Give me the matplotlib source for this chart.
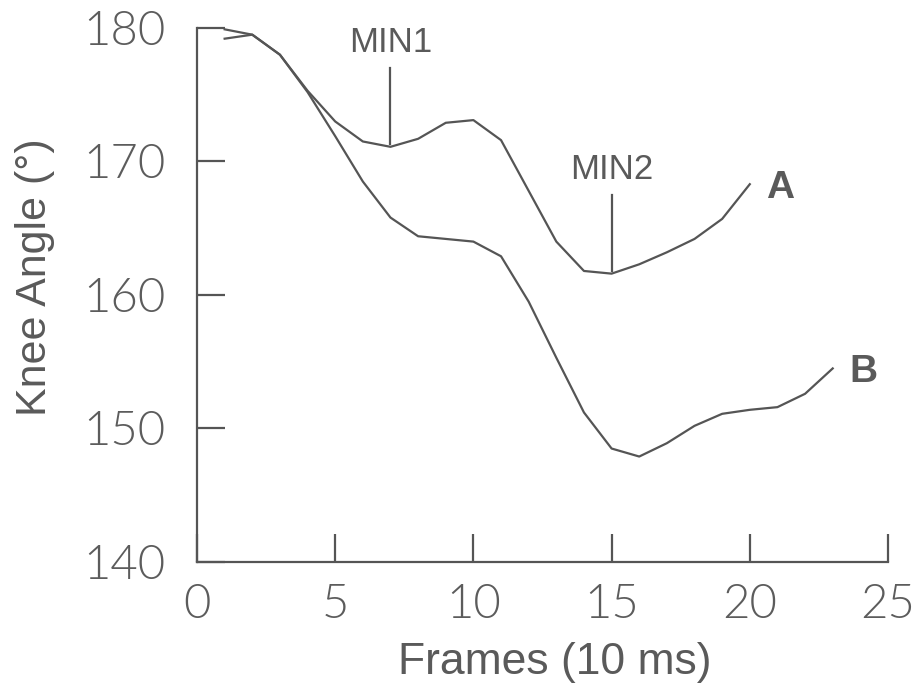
import numpy as np
import matplotlib
matplotlib.use("Agg")
import matplotlib.pyplot as plt

# frames (10 ms) and knee angle (deg)
frames_a = [1, 2, 3, 4, 5, 6, 7, 8, 9, 10, 11, 12, 13, 14, 15, 16, 17, 18, 19, 20]
angle_a = [179.9, 179.5, 178.0, 175.3, 173.0, 171.5, 171.1, 171.7, 172.9, 173.1,
           171.6, 167.8, 164.0, 161.8, 161.6, 162.3, 163.2, 164.2, 165.7, 168.3]

frames_b = [1, 2, 3, 4, 5, 6, 7, 8, 9, 10, 11, 12, 13, 14, 15, 16, 17, 18, 19, 20, 21, 22, 23]
angle_b = [179.2, 179.5, 178.0, 175.2, 171.9, 168.5, 165.8, 164.4, 164.2, 164.0,
           162.9, 159.5, 155.3, 151.2, 148.5, 147.9, 148.9, 150.2, 151.1, 151.4,
           151.6, 152.6, 154.5]

min_labels = ["MIN1", "MIN2"]
min_frames = [7, 15]

x_ticks = [0, 5, 10, 15, 20, 25]
y_ticks = [140, 150, 160, 170, 180]

grey = "#555555"
txt = "#5a5a5a"

fig = plt.figure(figsize=(9.16, 6.88), dpi=100)
ax = fig.add_axes([197 / 916, 1 - 562 / 688, (888 - 197) / 916, (562 - 28) / 688])

ax.plot(frames_a, angle_a, color=grey, lw=1.6)
ax.plot(frames_b, angle_b, color=grey, lw=1.6)

ax.set_xlim(0, 25)
ax.set_ylim(140, 180)
ax.set_xticks(x_ticks)
ax.set_yticks(y_ticks)

for s in ["top", "right"]:
    ax.spines[s].set_visible(False)
for s in ["left", "bottom"]:
    ax.spines[s].set_color(grey)
    ax.spines[s].set_linewidth(1.6)

ax.tick_params(direction="in", length=20, width=1.6, color=grey, labelcolor="#5c5c5c")
ax.tick_params(axis="y", pad=23)
ax.tick_params(axis="x", pad=16)
for lab in ax.get_xticklabels() + ax.get_yticklabels():
    lab.set_family(["Lato", "DejaVu Sans"])
    lab.set_fontweight(300)
    lab.set_fontsize(34)

ax.set_xlabel("Frames (10 ms)", family="Liberation Sans", fontsize=32, color=txt)
ax.set_ylabel("Knee Angle (\u00b0)", family="Liberation Sans", fontsize=31, color=txt)
ax.xaxis.set_label_coords(0.518, -0.150)
ax.yaxis.set_label_coords(-0.206, 0.534)

# MIN markers: vertical line from the curve up to a label
fa = np.array(frames_a)
aa = np.array(angle_a)
for lab, f in zip(min_labels, min_frames):
    y0 = aa[fa == f][0]
    ax.plot([f, f], [y0 + 0.2, y0 + 5.9], color=grey, lw=1.6)
    ax.text(f, y0 + 6.6, lab, ha="center", va="bottom", family="Liberation Sans",
            fontsize=25, color=txt)

ax.text(frames_a[-1] + 1.1, angle_a[-1] - 0.3, "A", ha="center", va="center",
        family="Liberation Sans", fontweight="bold", fontsize=28, color=txt)
ax.text(frames_b[-1] + 1.1, angle_b[-1] - 0.3, "B", ha="center", va="center",
        family="Liberation Sans", fontweight="bold", fontsize=28, color=txt)

fig.savefig("out.png", dpi=100)
